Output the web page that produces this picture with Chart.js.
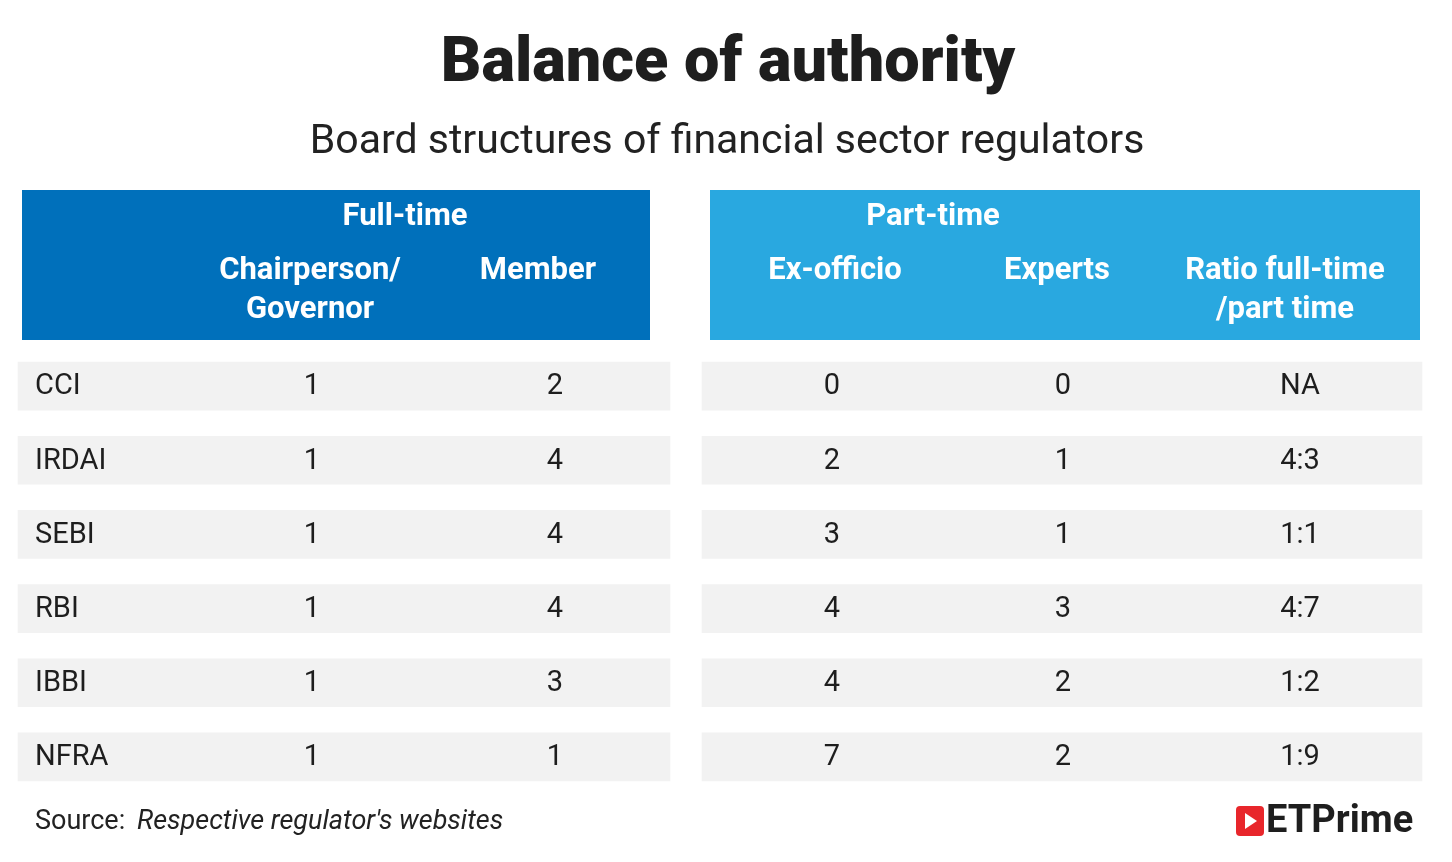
<!DOCTYPE html>
<html><head><meta charset="utf-8">
<script src="https://cdn.jsdelivr.net/npm/chart.js@4"></script>
<style>body{margin:0;background:#fff}canvas{display:block}</style>
</head><body>
<canvas id="c" width="1452" height="862"></canvas>
<script>
const regulators = ["CCI","IRDAI","SEBI","RBI","IBBI","NFRA"];
const chairperson = [1,1,1,1,1,1];
const member = [2,4,4,4,3,1];
const exOfficio = [0,2,3,4,4,7];
const experts = [0,1,1,3,2,2];
const ratio = ["NA","4:3","1:1","4:7","1:2","1:9"];

const F = "Roboto, 'Noto Sans', sans-serif";
const tablePlugin = {
  id: 'table',
  beforeDatasetsDraw(chart){
    const ctx = chart.ctx;
    ctx.save();
    ctx.fillStyle = '#0070BB'; ctx.fillRect(22,190,628,150);
    ctx.fillStyle = '#29A8E0'; ctx.fillRect(710,190,710,150);
    ctx.fillStyle = '#1e1e1e'; ctx.textAlign='center'; ctx.textBaseline='middle';
    ctx.font = "900 63px " + F; ctx.fillText("Balance of authority", 728, 65);
    ctx.font = "400 41px " + F; ctx.fillStyle='#222'; ctx.fillText("Board structures of financial sector regulators", 727, 143);
    ctx.fillStyle = '#fff'; ctx.font = "700 31px " + F;
    ctx.fillText("Full-time", 405, 217);
    ctx.fillText("Chairperson/", 310, 271); ctx.fillText("Governor", 310, 310);
    ctx.fillText("Member", 538, 271);
    ctx.fillText("Part-time", 933, 217);
    ctx.fillText("Ex-officio", 835, 271);
    ctx.fillText("Experts", 1057, 271);
    ctx.fillText("Ratio full-time", 1285, 271); ctx.fillText("/part time", 1285, 310);
    ctx.restore();
  },
  afterDatasetsDraw(chart){
    const ctx = chart.ctx, y = chart.scales.y;
    ctx.save();
    ctx.fillStyle = '#1e1e1e'; ctx.font = "400 29px " + F; ctx.textBaseline='middle';
    regulators.forEach((r,i)=>{
      const py = y.getPixelForValue(i) + 1;
      ctx.textAlign='left'; ctx.fillText(r, 35, py);
      ctx.textAlign='center';
      ctx.fillText(String(chairperson[i]), 312, py);
      ctx.fillText(String(member[i]), 555, py);
      ctx.fillText(String(exOfficio[i]), 832, py);
      ctx.fillText(String(experts[i]), 1063, py);
      ctx.fillText(ratio[i], 1300, py);
    });
    ctx.textAlign='left'; ctx.font = "400 27px " + F; ctx.fillStyle='#222';
    ctx.fillText("Source:", 35, 822);
    ctx.font = "italic 400 27px " + F; ctx.fillText("Respective regulator's websites", 137, 822);
    ctx.fillStyle = '#E8262B';
    ctx.beginPath(); ctx.roundRect(1236, 806, 28, 30, 4); ctx.fill();
    ctx.fillStyle='#fff'; ctx.beginPath(); ctx.moveTo(1245,813); ctx.lineTo(1257,821); ctx.lineTo(1245,829); ctx.closePath(); ctx.fill();
    ctx.fillStyle='#1e1e1e'; ctx.font = "700 38px " + F; ctx.fillText("ETPrime", 1266, 822);
    ctx.restore();
  }
};

new Chart(document.getElementById('c'), {
  type: 'bar',
  data: {
    labels: regulators,
    datasets: [
      { data: regulators.map(()=>[18,670]), backgroundColor:'#F2F2F2', barThickness:48, grouped:false },
      { data: regulators.map(()=>[702,1422]), backgroundColor:'#F2F2F2', barThickness:48, grouped:false }
    ]
  },
  options: {
    indexAxis: 'y', responsive:false, animation:false, devicePixelRatio:1,
    layout:{ padding:{ top:349, bottom:68, left:0, right:0 } },
    plugins:{ legend:{display:false}, tooltip:{enabled:false} },
    scales:{
      x:{ type:'linear', min:0, max:1452, display:false },
      y:{ display:false, offset:true }
    }
  },
  plugins:[tablePlugin]
});
</script>
</body></html>
